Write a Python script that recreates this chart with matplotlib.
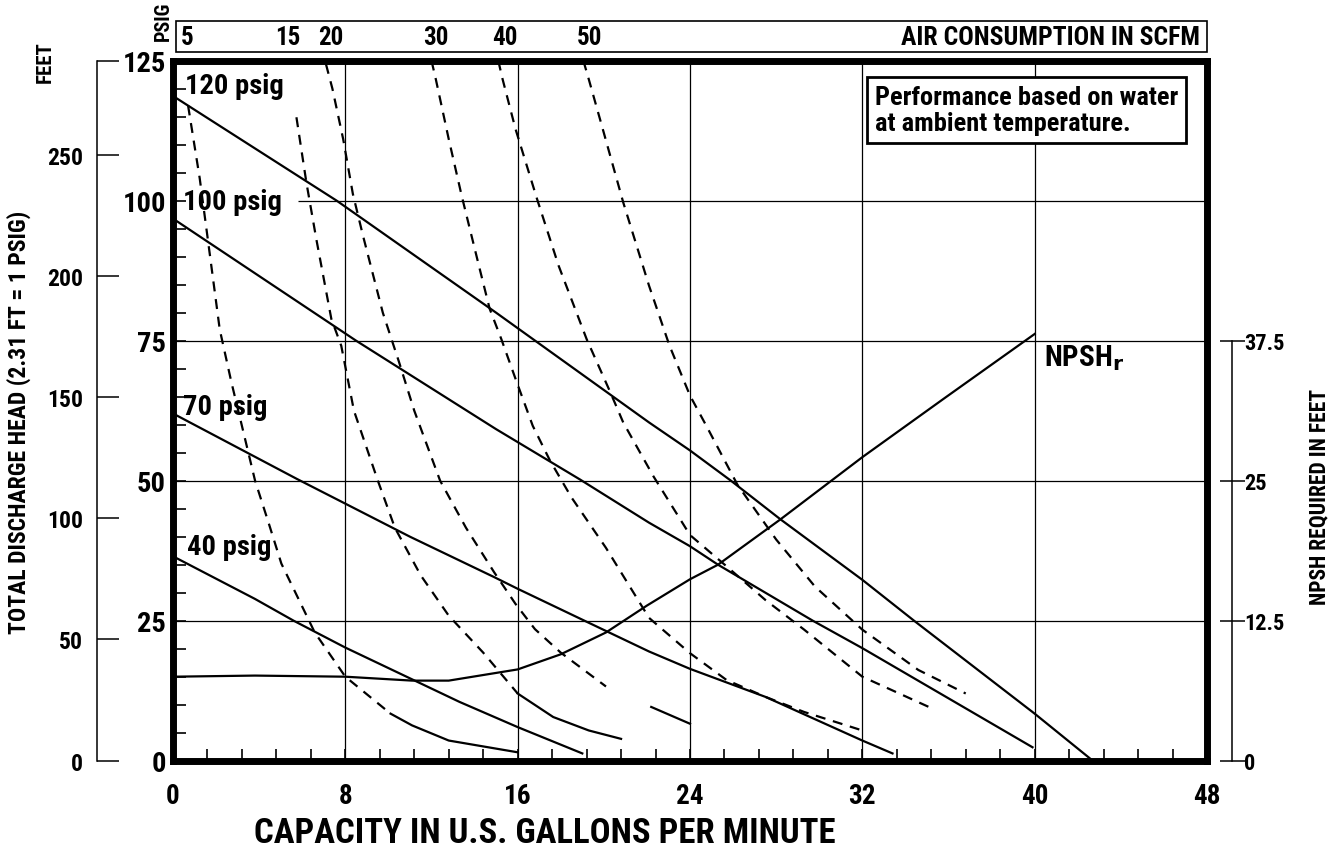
import numpy as np
import matplotlib
matplotlib.use("Agg")
from matplotlib import pyplot as plt
from matplotlib.patches import Rectangle

plt.rcParams['font.family'] = ['Roboto Condensed', 'DejaVu Sans']
plt.rcParams['font.weight'] = 'bold'
plt.rcParams['axes.labelweight'] = 'bold'

# performance curves: capacity (gpm) vs discharge head (psig)
p120_gpm = [0, 7.6, 15.0, 22.1, 24.0, 25.9, 28.2, 32.0, 34.4, 40.0, 42.6]
p120_head = [118.7, 100, 80, 60.4, 55.4, 50, 43.1, 32.3, 25, 8.4, 0.3]
p100_gpm = [0, 8.5, 15.0, 18.9, 22.1, 24.0, 25.3, 29.7, 32.0, 39.9]
p100_head = [96.8, 75, 59.2, 50.2, 42.5, 38.3, 35.0, 25.0, 20.1, 2.4]
p70_gpm = [0, 5.76, 8.0, 11.0, 14.9, 16.0, 19.1, 22.1, 24.0, 27.5, 32.0, 33.4]
p70_head = [62.0, 50.3, 45.9, 40.0, 32.8, 30.7, 25.0, 19.5, 16.4, 11.4, 3.6, 1.3]
p40_gpm = [0, 3.8, 5.6, 8.0, 13.3, 16.0, 19.0]
p40_head = [36.5, 28.9, 25.0, 20.2, 10.5, 6.0, 1.3]
perf_labels = ["120 psig", "100 psig", "70 psig", "40 psig"]

# NPSH required (feet, right scale)
npsh_gpm = [0, 3.8, 8.0, 11.1, 12.8, 16.0, 18.0, 20.1, 22.0, 24.0, 25.3, 28.2, 32.0, 35.8, 40.0]
npsh_ft = [7.5, 7.6, 7.5, 7.15, 7.15, 8.15, 9.5, 11.45, 13.85, 16.2, 17.5, 21.55, 27.1, 32.35, 38.1]

# air consumption curves (SCFM)
air_scfm = ["5", "15", "20", "30", "40", "50"]
a5_gpm = [0.7, 1.24, 1.62, 2.17, 2.71, 3.08, 3.81, 4.46, 5.03, 6.58, 8.0, 10.1, 11.1, 12.8, 16.0]
a5_head = [117, 104, 93, 77, 67.6, 61.7, 50, 42.2, 35.2, 22.9, 15.0, 8.4, 6.3, 3.6, 1.5]
a15_gpm = [5.73, 6.19, 6.65, 7.35, 7.81, 8.4, 9.51, 10.3, 11.5, 12.8, 14.4, 16.0, 17.65, 19.3, 20.8]
a15_head = [114.9, 103.3, 93.2, 78.9, 74.1, 62.5, 50, 41.6, 33.1, 25.9, 19.3, 12.0, 7.8, 5.4, 3.9]
a20_gpm = [7.1, 7.4, 7.9, 8.35, 8.82, 9.74, 10.5, 11.2, 12.4, 13.6, 14.9, 15.9, 16.8, 18.0, 20.1, 22.2, 24.0]
a20_head = [124.4, 120, 111, 101.2, 93.75, 80, 71.1, 62.5, 50, 41.6, 33.7, 28, 23.5, 19.3, 13.25, 9.6, 6.6]
a30_gpm = [12.0, 12.2, 12.8, 13.4, 14.2, 14.7, 15.24, 15.9, 16.7, 17.5, 18.5, 20.1, 22.1, 24.0, 25.7, 27.5, 29.3, 32.0]
a30_head = [125, 121.7, 111, 100.9, 88.4, 80.7, 75.3, 68.2, 59.8, 53.6, 47, 38, 25.5, 19.2, 14.4, 11.4, 8.7, 5.4]
a40_gpm = [15.1, 15.3, 15.9, 16.9, 17.9, 19.2, 20.3, 20.9, 22.3, 24.0, 25.7, 27.5, 29.3, 32.0, 35.2]
a40_head = [125, 121.7, 112.8, 100.3, 88.4, 75.3, 65.8, 60.4, 50.8, 40.3, 34.7, 28.7, 23.4, 15.0, 9.4]
a50_gpm = [19.05, 19.3, 19.95, 20.9, 22.1, 23.05, 24.0, 24.8, 26.2, 28.0, 29.8, 32.0, 34.6, 36.8]
a50_head = [125, 121.7, 112.8, 99.7, 84.8, 74.1, 65.2, 59.5, 49.3, 39.5, 31.1, 23.4, 16.2, 12.0]
# gpm where each air curve turns into a solid tail (None = dashed all along)
air_solid_from = [10.1, 16.0, 21.0, None, None, None]

fig = plt.figure(figsize=(13.44, 8.54), dpi=100)
ax = fig.add_axes([173 / 1344, 1 - 761.7 / 854, 1034 / 1344, 700 / 854])
ax.set_xlim(0, 48)
ax.set_ylim(0, 125)

for s in ax.spines.values():
    s.set_linewidth(5)

ax.set_xticks(np.arange(0, 49, 8))
ax.set_xticks(np.arange(0, 48.01, 1.6), minor=True)
ax.set_yticks(np.arange(0, 126, 25))
ax.set_yticks(np.arange(0, 126, 5), minor=True)
ax.tick_params(which="both", direction="in", length=9, width=1.2)
ax.tick_params(axis="x", which="major", labelsize=19.5, pad=15)
ax.tick_params(axis="y", which="major", labelsize=20.5, pad=5)

# grid
for g in [8, 16, 24, 32, 40]:
    ax.axvline(g, color="black", lw=0.9, zorder=1)
for h in [25, 50, 75]:
    ax.axhline(h, color="black", lw=0.9, zorder=1)
ax.hlines(100, 5.8, 48, color="black", lw=0.9, zorder=1)

lw = 1.6
for gx, hy in [(p120_gpm, p120_head), (p100_gpm, p100_head), (p70_gpm, p70_head), (p40_gpm, p40_head)]:
    ax.plot(gx, hy, color="black", lw=lw, zorder=3)

label_pos = [(0.55, 120.5), (0.45, 99.8), (0.45, 63.2), (0.64, 38.2)]
for lab, (lx, ly) in zip(perf_labels, label_pos):
    ax.text(lx, ly, lab, fontsize=20.5, ha="left", va="center", zorder=4)

air_curves = [(a5_gpm, a5_head), (a15_gpm, a15_head), (a20_gpm, a20_head),
              (a30_gpm, a30_head), (a40_gpm, a40_head), (a50_gpm, a50_head)]
for (gx, hy), cut in zip(air_curves, air_solid_from):
    gx = np.array(gx)
    hy = np.array(hy)
    if cut is None:
        ax.plot(gx, hy, color="black", lw=lw, ls=(0, (4.5, 3.5)), zorder=2)
    else:
        m = gx <= cut
        ax.plot(gx[m], hy[m], color="black", lw=lw, ls=(0, (4.5, 3.5)), zorder=2)
        m2 = gx >= cut
        ax.plot(gx[m2], hy[m2], color="black", lw=lw, zorder=2)

# air consumption header box
ax.add_patch(Rectangle((0.003, 1.0124), 0.997, 0.0443, transform=ax.transAxes,
                       fill=False, lw=1.2, clip_on=False))
air_label_x = [0.68, 5.34, 7.3, 12.2, 15.4, 19.35]
for lab, lx in zip(air_scfm, air_label_x):
    ax.text(lx, 1.034, lab, transform=ax.get_xaxis_transform(), fontsize=18,
            ha="center", va="center")
ax.text(0.993, 1.034, "AIR CONSUMPTION IN SCFM", transform=ax.transAxes, fontsize=18.5,
        ha="right", va="center")
fig.text(163 / 1344, 1 - 21 / 854, "PSIG", rotation=90, fontsize=14.5, ha="center", va="center")

# note box
ax.text(0.6786, 0.965, "Performance based on water\nat ambient temperature.", transform=ax.transAxes,
        fontsize=19, ha="left", va="top", linespacing=1.1,
        bbox=dict(boxstyle="square,pad=0.3", fc="white", ec="black", lw=2))

fig.text(545 / 1344, 1 - 834 / 854, "CAPACITY IN U.S. GALLONS PER MINUTE", fontsize=25,
         ha="center", va="center")

# outer feet scale
ax_ft = ax.twinx()
ax_ft.set_ylim(0, 125 * 2.31)
for k in ["right", "top", "bottom"]:
    ax_ft.spines[k].set_visible(False)
ax_ft.spines["left"].set_visible(True)
ax_ft.spines["left"].set_position(("axes", -0.0735))
ax_ft.spines["left"].set_linewidth(1.1)
ax_ft.yaxis.tick_left()
ax_ft.set_yticks([0, 50, 100, 150, 200, 250, 125 * 2.31])
ax_ft.set_yticklabels(["0", "50", "100", "150", "200", "250", ""])
ax_ft.tick_params(axis="y", direction="in", length=16, width=1.1, labelsize=17, pad=10)
fig.text(19 / 1344, 1 - 422 / 854, "TOTAL DISCHARGE HEAD (2.31 FT = 1 PSIG)", rotation=90,
         fontsize=17, ha="center", va="center")
fig.text(45 / 1344, 1 - 62 / 854, "FEET", rotation=90, fontsize=15, ha="center", va="center")

# NPSH scale
ax_n = ax.twinx()
ax_n.set_ylim(0, 62.5)
for k in ["left", "top", "bottom"]:
    ax_n.spines[k].set_visible(False)
ax_n.spines["right"].set_position(("axes", 1.024))
ax_n.spines["right"].set_bounds(0, 37.5)
ax_n.spines["right"].set_linewidth(1.1)
ax_n.set_yticks([0, 12.5, 25, 37.5])
ax_n.set_yticklabels(["0", "12.5", "25", "37.5"])
ax_n.tick_params(axis="y", direction="inout", length=18, width=1.1, labelsize=16, pad=0)
fig.text(1319 / 1344, 1 - 497 / 854, "NPSH REQUIRED IN FEET", rotation=90,
         fontsize=15.5, ha="center", va="center")
ax_n.plot(npsh_gpm, npsh_ft, color="black", lw=lw, zorder=3)
ax_n.text(40.45, 35.3, "NPSH$_\\mathbf{r}$", fontsize=21, ha="left", va="baseline")

fig.savefig("out.png", dpi=100)
